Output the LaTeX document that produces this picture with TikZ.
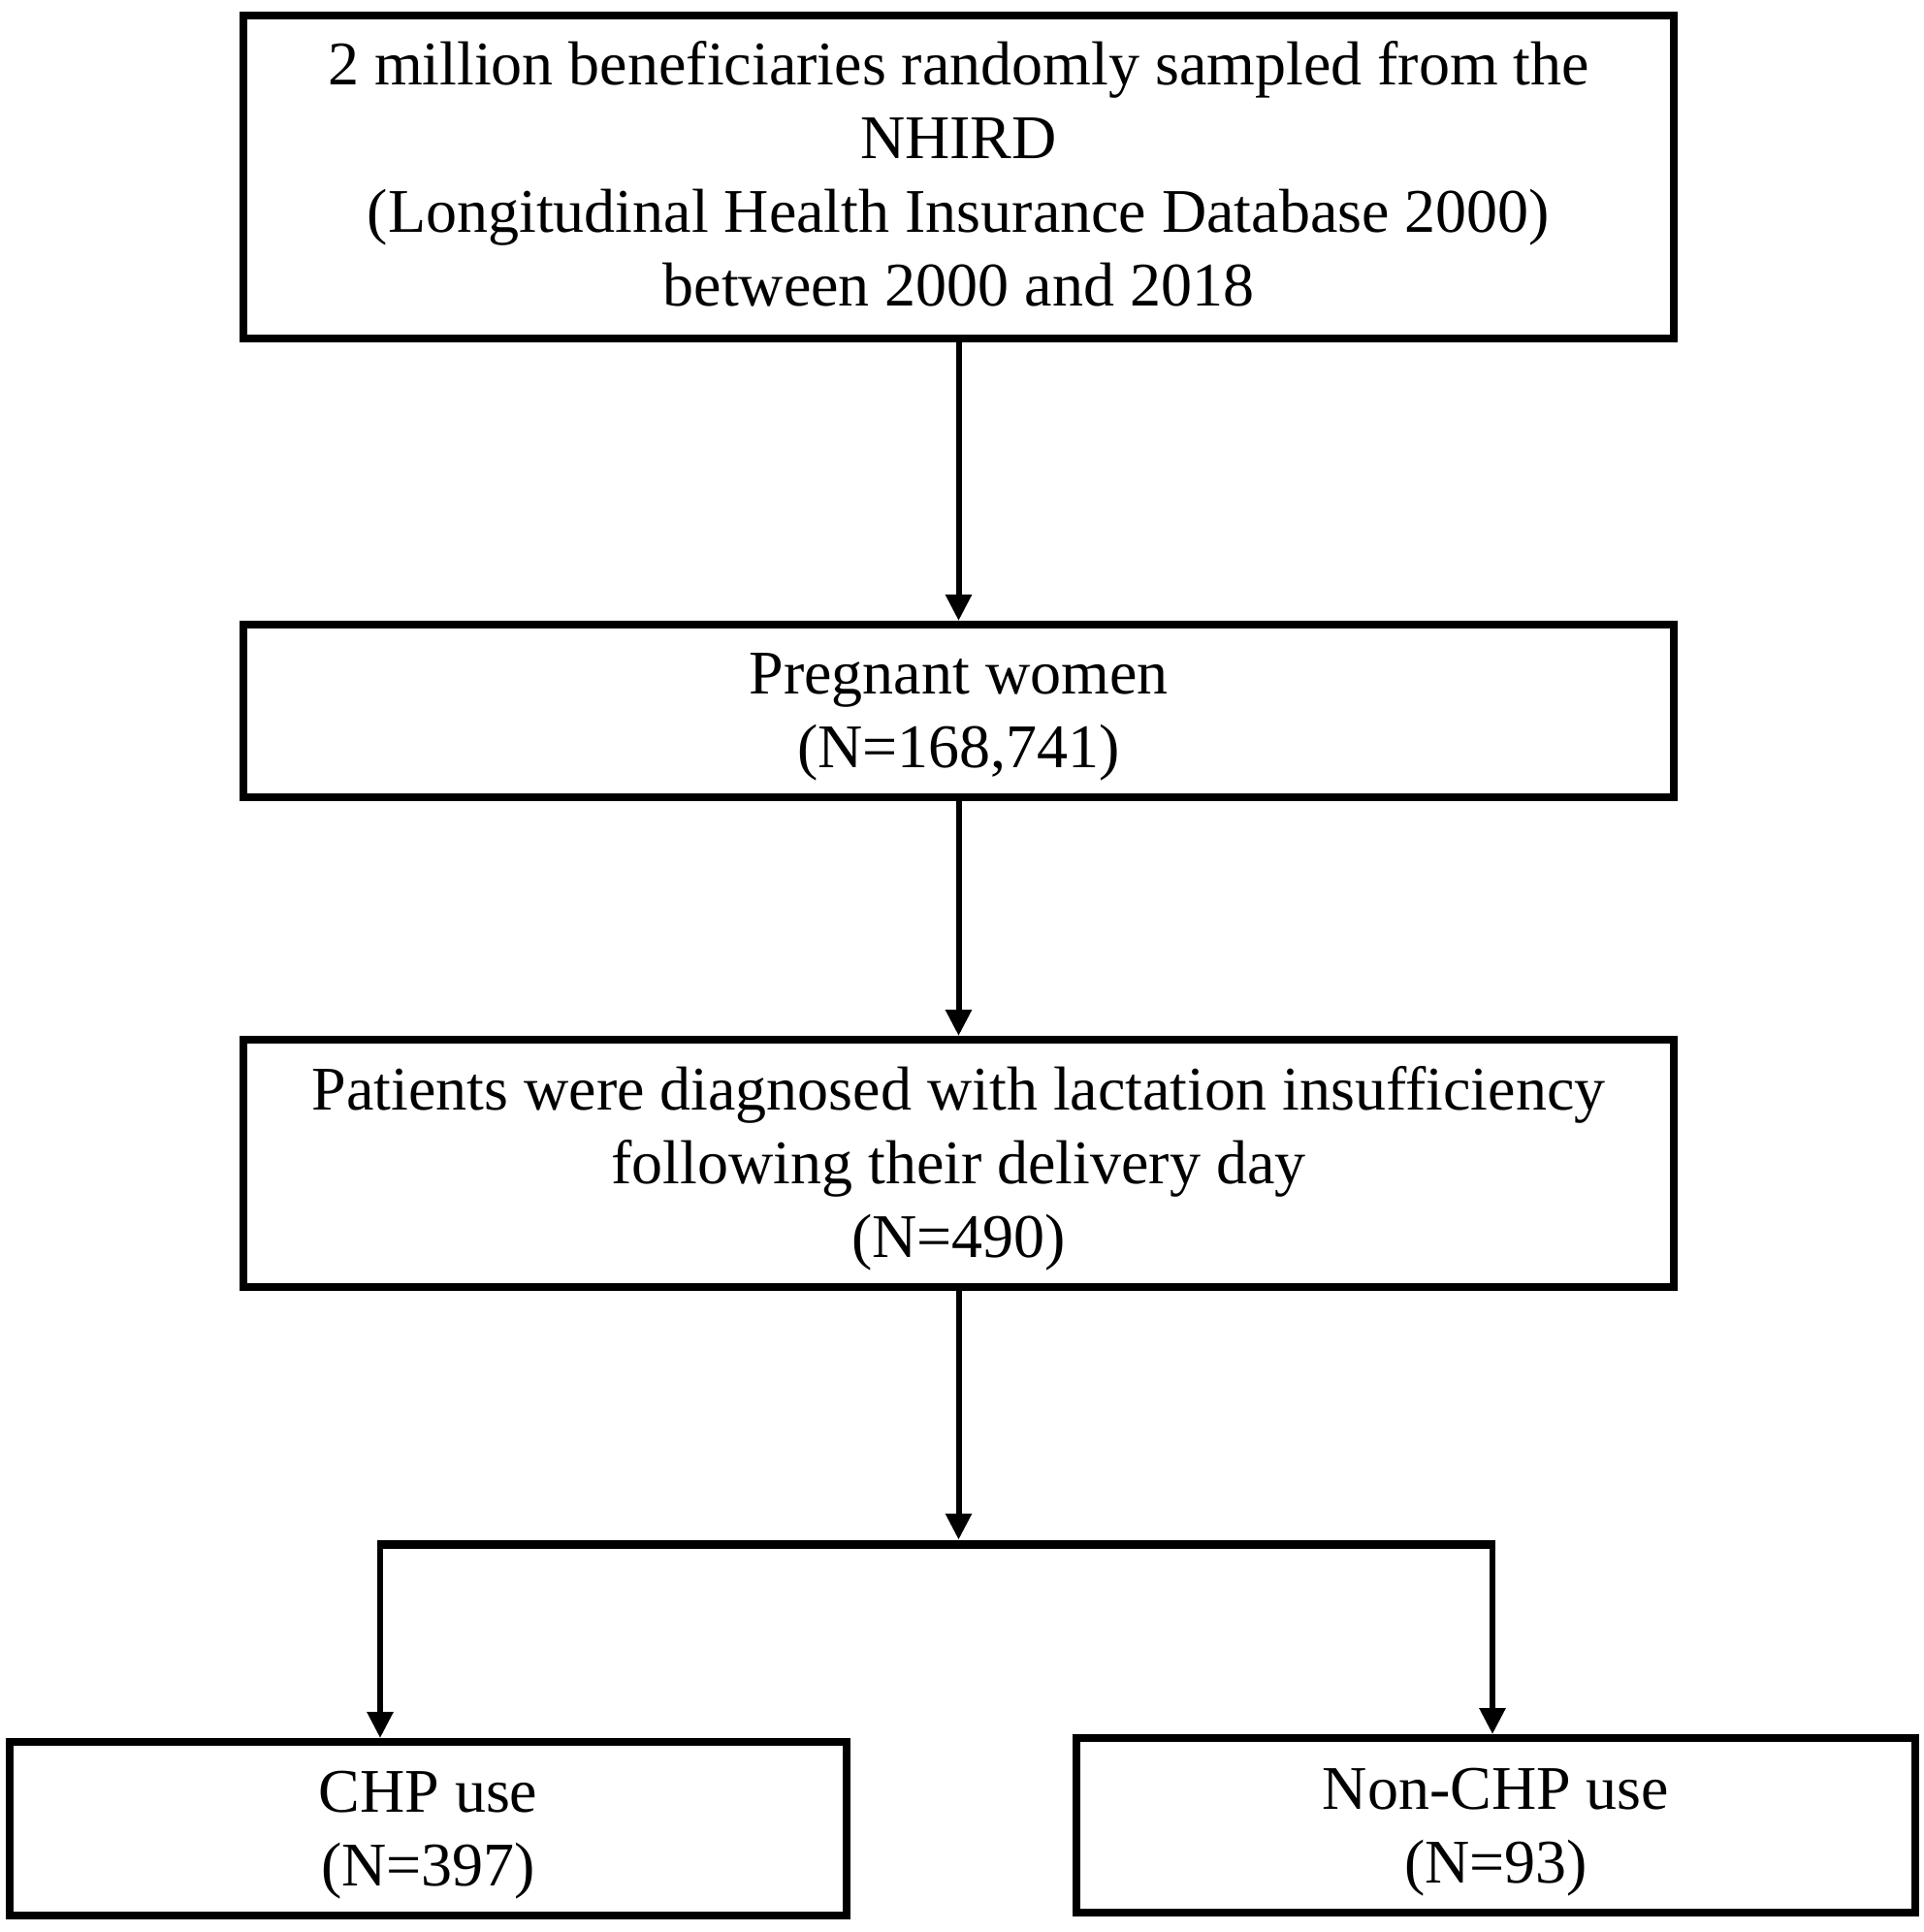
\documentclass[tikz,border=0pt]{standalone}
\usepackage{fontspec}
\setmainfont{Liberation Serif}
\usetikzlibrary{arrows.meta,positioning}

\newcommand{\padtop}[1]{\rule{0pt}{#1}}

\tikzset{
	box/.style={draw, line width=4pt, rectangle, inner sep=0pt, align=center,
		font=\fontsize{32}{38}\selectfont},
	flow/.style={line width=3pt, -{Triangle[length=13.5pt,width=13pt]}},
	bar/.style={line width=4.5pt},
}

\begin{document}
\begin{tikzpicture}
		
		\useasboundingbox (0,0) rectangle (991.5pt,-996pt);
		
		%source
		\node[box, minimum width=737.5pt, minimum height=166.5pt] (src) at (494.25pt,-91.25pt)
			{2 million beneficiaries randomly sampled from the\\NHIRD\\(Longitudinal Health Insurance Database 2000)\\between 2000 and 2018\rule[-4pt]{0pt}{0pt}};
		%pregnant
		\node[box, minimum width=737.5pt, minimum height=89pt, below=143.5pt of src] (preg)
			{\padtop{27pt}Pregnant women\\(N=168,741)};
		%lactation
		\node[box, minimum width=737.5pt, minimum height=127.5pt, below=121pt of preg] (lact)
			{\padtop{28pt}Patients were diagnosed with lactation insufficiency\\following their delivery day\\(N=490)};
		%chp
		\node[box, minimum width=431.5pt, minimum height=89.5pt] (chp) at (220.75pt,-942.75pt)
			{\padtop{28pt}CHP use\\(N=397)};
		%nonchp
		\node[box, minimum width=432.5pt, minimum height=90pt] (nonchp) at (771.25pt,-941pt)
			{\padtop{28pt}Non-CHP use\\(N=93)};
		
		\coordinate (jl) at (196pt,-796pt);
		\coordinate (jr) at (769.5pt,-796pt);
		
		\draw[flow] (src) -- (preg);
		\draw[flow] (preg) -- (lact);
		\draw[flow, shorten >=2.25pt] (lact.south) -- (lact.south |- jl);
		\draw[bar] ([xshift=-1.5pt]jl) -- ([xshift=1.5pt]jr);
		\draw[flow] (jl) -- (jl |- chp.north);
		\draw[flow] (jr) -- (jr |- nonchp.north);
		
\end{tikzpicture}
\end{document}
